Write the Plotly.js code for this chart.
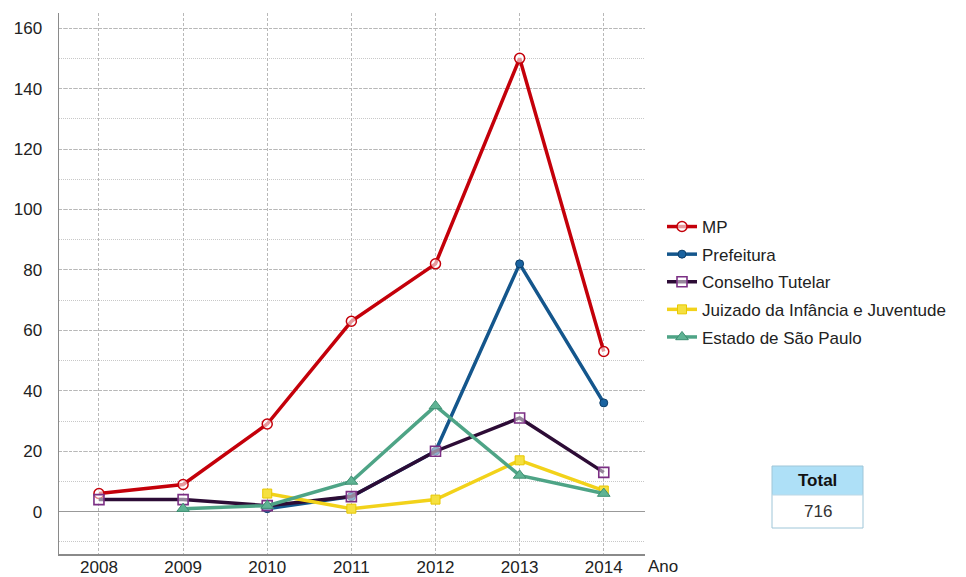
<!DOCTYPE html>
<html>
<head>
<meta charset="utf-8">
<script src="https://cdn.plot.ly/plotly-3.0.1.min.js"></script>
<style>html,body{margin:0;padding:0;background:#fff;}#chart{width:966px;height:577px;}</style>
</head>
<body>
<div id="chart"></div>
<script>
const years = [2008, 2009, 2010, 2011, 2012, 2013, 2014];
const seriesNames = ["MP", "Prefeitura", "Conselho Tutelar", "Juizado da Infância e Juventude", "Estado de São Paulo"];
const mp = [6, 9, 29, 63, 82, 150, 53];
const prefeitura = [null, null, 1, 5, 20, 82, 36];
const conselho = [4, 4, 2, 5, 20, 31, 13];
const juizado = [null, null, 6, 1, 4, 17, 7];
const estado = [null, 1, 2, 10, 35, 12, 6];
const yTicks = [0, 20, 40, 60, 80, 100, 120, 140, 160];
const totalLabel = "Total";
const totalValue = "716";
const xAxisLabel = "Ano";

const font = "Liberation Sans, Arial, sans-serif";
const fs = 17;

const traces = [
  {y: mp, name: seriesNames[0], line: {color: '#c4000a', width: 3.5},
   marker: {symbol: 'circle', size: 10, color: 'rgba(255,255,255,0.6)', line: {color: '#c4000a', width: 1.5}}},
  {y: prefeitura, name: seriesNames[1], line: {color: '#14568c', width: 3.5},
   marker: {symbol: 'circle', size: 8, color: '#1a63a0', line: {color: '#0d3f6a', width: 1}}},
  {y: conselho, name: seriesNames[2], line: {color: '#2d0c36', width: 3.5},
   marker: {symbol: 'square', size: 10, color: 'rgba(255,255,255,0.5)', line: {color: '#7b2f84', width: 1.6}}},
  {y: juizado, name: seriesNames[3], line: {color: '#f2d21a', width: 3.5},
   marker: {symbol: 'square', size: 9, color: '#f5e040', line: {color: '#e8c800', width: 1}}},
  {y: estado, name: seriesNames[4], line: {color: '#4ea486', width: 3.5},
   marker: {symbol: 'triangle-up', size: 11, color: '#5fb394', line: {color: '#3e8f72', width: 1}}}
].map((t, i) => Object.assign({x: years, type: 'scatter', mode: 'lines+markers', connectgaps: false, legendgroup: 'g' + i}, t));

const gridDash = '3px,2px';

const layout = {
  width: 966, height: 577,
  margin: {l: 59, r: 321, t: 13, b: 23, autoexpand: false},
  paper_bgcolor: '#ffffff', plot_bgcolor: '#ffffff',
  font: {family: font, size: fs, color: '#222'},
  showlegend: true,
  legend: {x: (662-59)/586, y: (554-209)/541, xanchor: 'left', yanchor: 'top', font: {family: font, size: fs, color: '#222'},
           tracegroupgap: 2.5, itemwidth: 30, bgcolor: 'rgba(0,0,0,0)'},
  xaxis: {range: [2007.525, 2014.49], tickvals: years, ticktext: years.map(String), showgrid: true,
          gridcolor: '#b8b8b8', griddash: gridDash, gridwidth: 1, showline: true, linecolor: '#8a8a8a', linewidth: 1.5,
          zeroline: false, ticks: '', ticklabelstandoff: -3, automargin: false, fixedrange: true, tickfont: {size: fs, color: '#222'}},
  yaxis: {range: [-14, 165], tickvals: yTicks, showgrid: true, gridcolor: '#b8b8b8', griddash: gridDash, gridwidth: 1,
          minor: {dtick: 10, tick0: 0, showgrid: true, gridcolor: '#c8c8c8', griddash: '1px,1px', gridwidth: 1},
          showline: true, linecolor: '#8a8a8a', linewidth: 1.5, zeroline: true, zerolinecolor: '#999', zerolinewidth: 1.5,
          ticks: '', ticklabelstandoff: 12, automargin: false, fixedrange: true, tickfont: {size: fs, color: '#222'}},
  shapes: [
    {type: 'rect', xref: 'paper', yref: 'paper', x0: (772-59)/586, x1: (863-59)/586, y0: (554-466)/541, y1: (554-495)/541,
     fillcolor: '#aee0f7', line: {width: 0}},
    {type: 'rect', xref: 'paper', yref: 'paper', x0: (772-59)/586, x1: (863-59)/586, y0: (554-466)/541, y1: (554-528)/541,
     fillcolor: 'rgba(0,0,0,0)', line: {color: '#9fc6d8', width: 1}},
    {type: 'line', xref: 'paper', yref: 'paper', x0: (772-59)/586, x1: (863-59)/586, y0: (554-495)/541, y1: (554-495)/541,
     line: {color: '#bcd8e6', width: 1}}
  ],
  annotations: [
    {xref: 'paper', yref: 'paper', x: (817.5-59)/586, y: (554-480.5)/541, text: '<b>' + totalLabel + '</b>', showarrow: false,
     font: {family: font, size: 17, color: '#111'}, xanchor: 'center', yanchor: 'middle'},
    {xref: 'paper', yref: 'paper', x: (817.5-59)/586, y: (554-511.5)/541, text: totalValue, showarrow: false,
     font: {family: font, size: 17, color: '#333'}, xanchor: 'center', yanchor: 'middle'},
    {xref: 'paper', yref: 'paper', x: (646-59)/586, y: -(566-554)/541, text: xAxisLabel, showarrow: false,
     font: {family: font, size: fs, color: '#222'}, xanchor: 'left', yanchor: 'middle'}
  ]
};

Plotly.newPlot('chart', traces, layout, {displayModeBar: false, staticPlot: true});
</script>
</body>
</html>
